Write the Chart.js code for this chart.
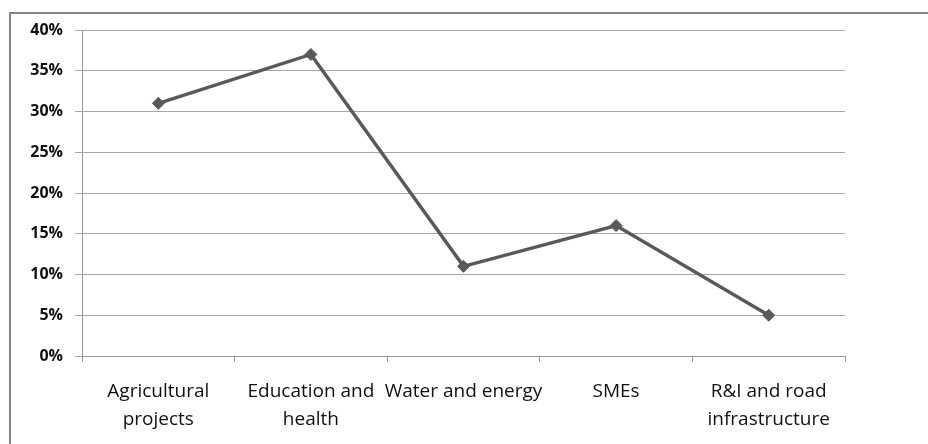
<!DOCTYPE html>
<html>
<head>
<meta charset="utf-8">
<script src="https://cdn.jsdelivr.net/npm/chart.js@4"></script>
<style>
  body { margin: 0; background: #fff; }
  #wrap { position: relative; width: 928px; height: 444px; }
  #frame { position: absolute; left: 9px; top: 12px; right: 0; bottom: 0;
           border-top: 2px solid #858585; border-left: 2px solid #858585; pointer-events: none; }
</style>
</head>
<body>
<div id="wrap">
  <canvas id="sectorChart" width="928" height="444"></canvas>
  <div id="frame"></div>
</div>
<script>
// Share of funding by sector
const categories = [
    ['Agricultural', 'projects'],
    ['Education and', 'health'],
    'Water and energy',
    'SMEs',
    ['R&I and road', 'infrastructure']
];
const shares = [31, 37, 11, 16, 5];
const yTicks = [0, 5, 10, 15, 20, 25, 30, 35, 40];

const ctx = document.getElementById('sectorChart').getContext('2d');

const sectorChart = new Chart(ctx, {
    type: 'line',
    data: {
        labels: categories,
        datasets: [{
            data: shares,
            borderColor: '#595959',
            backgroundColor: '#595959',
            borderWidth: 3.5,
            pointStyle: 'rectRot',
            pointRadius: 6,
            pointBorderWidth: 1,
            tension: 0
        }]
    },
    options: {
        responsive: false,
        animation: false,
        layout: { padding: { top: 30, right: 83, left: 0, bottom: 0 } },
        plugins: { legend: { display: false }, tooltip: { enabled: false } },
        scales: {
            x: {
                offset: true,
                grid: { offset: true, drawOnChartArea: false, drawTicks: true, tickLength: 6, color: '#9a9a9a' },
                border: { color: '#9a9a9a', width: 1 },
                ticks: {
                    color: '#111',
                    padding: 16,
                    maxRotation: 0,
                    autoSkip: false,
                    font: { family: 'Open Sans', size: 19, weight: 500, lineHeight: 1.47 }
                },
                afterFit: (scale) => { scale.height = 88; }
            },
            y: {
                min: 0,
                max: 40,
                afterBuildTicks: (scale) => { scale.ticks = yTicks.map(v => ({ value: v })); },
                grid: { color: '#a6a6a6', tickLength: 7, lineWidth: 1 },
                border: { color: '#9a9a9a', width: 1 },
                ticks: {
                    color: '#111',
                    padding: 12,
                    font: { family: 'Open Sans', size: 16, weight: 'bold' },
                    callback: (v) => v + '%'
                },
                afterFit: (scale) => { scale.width = 82; }
            }
        }
    }
});
</script>
</body>
</html>
